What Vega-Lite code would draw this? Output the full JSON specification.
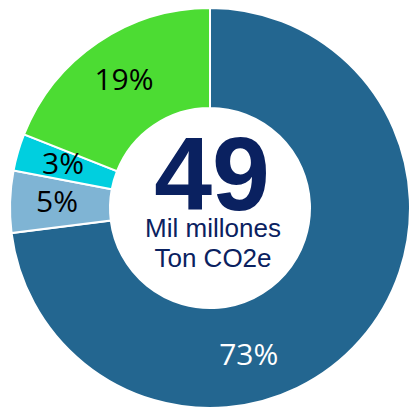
{
  "$schema": "https://vega.github.io/schema/vega-lite/v6.json",
  "width": 402,
  "height": 406,
  "padding": {"left": 9, "right": 0, "top": 5, "bottom": 0},
  "autosize": {"type": "none"},
  "background": "white",
  "config": {"view": {"stroke": null}},
  "data": {"values": [
    {"cat": "A", "pct": 73, "label": "73%"},
    {"cat": "B", "pct": 5, "label": "5%"},
    {"cat": "C", "pct": 3, "label": "3%"},
    {"cat": "D", "pct": 19, "label": "19%"}
  ]},
  "layer": [
    {
      "mark": {"type": "arc", "outerRadius": 200, "innerRadius": 100, "stroke": "white", "strokeWidth": 2},
      "encoding": {
        "theta": {"field": "pct", "type": "quantitative", "stack": true},
        "order": {"field": "cat", "type": "nominal"},
        "color": {"field": "cat", "type": "nominal", "legend": null,
          "scale": {"domain": ["A", "B", "C", "D"], "range": ["#236690", "#7fb4d4", "#00cfdf", "#4cdc33"]}}
      }
    },
    {
      "mark": {"type": "text", "radius": 153, "font": "Open Sans", "fontSize": 30, "color": "black"},
      "encoding": {
        "theta": {"field": "pct", "type": "quantitative", "stack": true},
        "order": {"field": "cat", "type": "nominal"},
        "text": {"field": "label"},
        "opacity": {"condition": {"test": "datum.cat == 'A'", "value": 0}, "value": 1}
      }
    },
    {
      "mark": {"type": "text", "radius": 153, "font": "Open Sans", "fontSize": 30, "color": "white", "dx": -76, "dy": 47},
      "encoding": {
        "theta": {"field": "pct", "type": "quantitative", "stack": true},
        "order": {"field": "cat", "type": "nominal"},
        "text": {"field": "label"},
        "opacity": {"condition": {"test": "datum.cat == 'A'", "value": 1}, "value": 0}
      }
    },
    {
      "data": {"values": [{"t": "49"}]},
      "mark": {"type": "text", "font": "Liberation Sans", "fontWeight": "bold", "fontSize": 104, "color": "#0a2160", "baseline": "alphabetic", "dx": 2, "dy": 2},
      "encoding": {"text": {"field": "t"}}
    },
    {
      "data": {"values": [{"t": "Mil millones"}]},
      "mark": {"type": "text", "font": "Liberation Sans", "fontSize": 26, "color": "#0a2160", "baseline": "alphabetic", "dx": 3, "dy": 29},
      "encoding": {"text": {"field": "t"}}
    },
    {
      "data": {"values": [{"t": "Ton CO2e"}]},
      "mark": {"type": "text", "font": "Liberation Sans", "fontSize": 26, "color": "#0a2160", "baseline": "alphabetic", "dx": 3, "dy": 59},
      "encoding": {"text": {"field": "t"}}
    }
  ]
}
